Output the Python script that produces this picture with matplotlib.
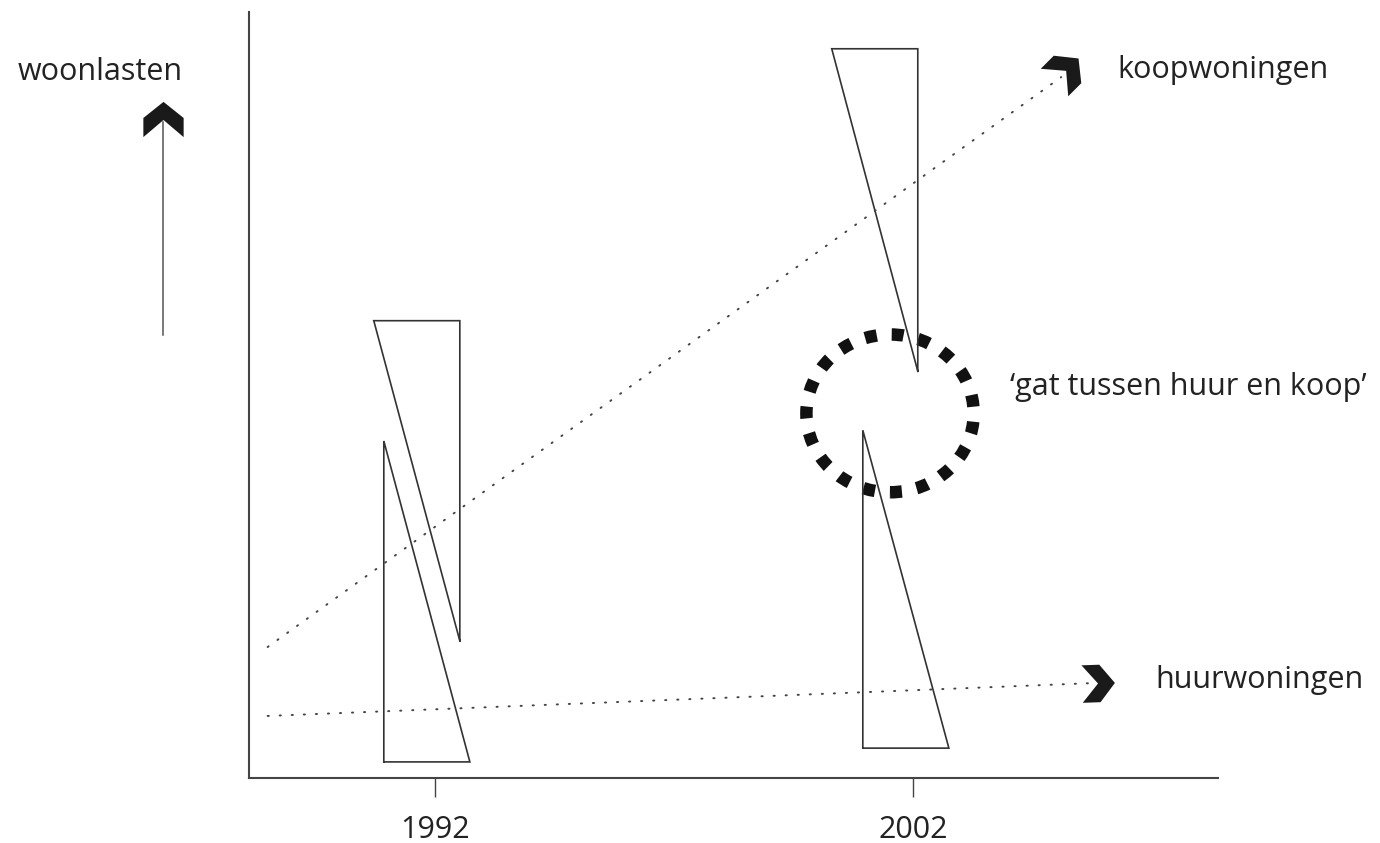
import numpy as np
import matplotlib
matplotlib.use("Agg")
import matplotlib.pyplot as plt
from matplotlib.path import Path
from matplotlib.markers import MarkerStyle
from matplotlib.transforms import Affine2D
from matplotlib.patches import Ellipse

# data (woonlasten index, 0-100)
years = [1992, 2002]
year_labels = ["1992", "2002"]
koop_top = [59.7, 95.2]
koop_bottom = [17.9, 53.1]
huur_top = [44.0, 45.4]
huur_bottom = [2.1, 3.9]

koop_trend_x = [1988.5, 2005.1]
koop_trend_y = [17.1, 91.5]
huur_trend_x = [1988.5, 2005.8]
huur_trend_y = [8.1, 12.4]

labels = ["koopwoningen", "huurwoningen"]
gap_label = "\u2018gat tussen huur en koop\u2019"
y_label = "woonlasten"

plt.rcParams['font.family'] = ['Open Sans', 'DejaVu Sans']
TXT = "#222222"
LINE = "#333333"

fig = plt.figure(figsize=(13.8, 8.43), dpi=100)
ax = fig.add_axes([249 / 1380, 65 / 843, 969 / 1380, 766 / 843])
ax.set_xlim(1988.11, 2008.38)
ax.set_ylim(0, 100)
for s in ["top", "right"]:
    ax.spines[s].set_visible(False)
for s in ["left", "bottom"]:
    ax.spines[s].set_color("#444444")
    ax.spines[s].set_linewidth(1.5)
ax.set_yticks([])
ax.set_xticks(years, year_labels)
ax.tick_params(axis="x", length=13.5, width=1, color="#444444", pad=13,
               labelsize=22, labelcolor=TXT)

# triangles: koop has the vertical edge right, huur left
tri_w = 1.8
koop_dx = [0.52, 0.10]
huur_dx = [-1.07, -1.05]
for i, yr in enumerate(years):
    xr = yr + koop_dx[i]
    ax.plot([xr, xr - tri_w, xr, xr], [koop_bottom[i], koop_top[i], koop_top[i], koop_bottom[i]],
            color=LINE, lw=1.2, solid_joinstyle="miter")
    xl = yr + huur_dx[i]
    ax.plot([xl, xl, xl + tri_w, xl], [huur_bottom[i], huur_top[i], huur_bottom[i], huur_bottom[i]],
            color=LINE, lw=1.2, solid_joinstyle="miter")

# dotted trend lines
ax.plot(koop_trend_x, koop_trend_y, color="#444444", lw=1.4, linestyle=(0, (0.6, 5.6)),
        dash_capstyle="round", clip_on=False)
ax.plot(huur_trend_x, huur_trend_y, color="#444444", lw=1.4, linestyle=(0, (0.6, 5.6)),
        dash_capstyle="round", clip_on=False)

# chevron arrow heads
chev = Path([(0, 17.5), (20, 1.5), (20, -17.5), (0, -0.5), (-20, -17.5), (-20, 1.5), (0, 17.5)],
            [Path.MOVETO] + [Path.LINETO] * 5 + [Path.CLOSEPOLY])


def chevron(angle):
    return MarkerStyle(chev, transform=Affine2D().rotate_deg(angle - 90))


ax.plot(koop_trend_x[-1] + 0.1, koop_trend_y[-1] + 0.9, marker=chevron(45), ms=28,
        color="#1a1a1a", mew=0, clip_on=False)
ax.plot(huur_trend_x[-1] + 0.06, huur_trend_y[-1], marker=chevron(2), ms=27,
        color="#1a1a1a", mew=0, clip_on=False)

ax.text(2006.27, 92.4, labels[0], fontsize=22, color=TXT, va="center", ha="left")
ax.text(2007.06, 12.8, labels[1], fontsize=22, color=TXT, va="center", ha="left")

# gap circle
circ = Ellipse((2001.52, 47.6), 3.5, 20.6, fill=False, edgecolor="#111111", lw=9,
               linestyle=(0, (0.95, 1.2)))
circ.set_capstyle("butt")
ax.add_patch(circ)
ax.text(2004.03, 51.0, gap_label, fontsize=22, color=TXT, va="center", ha="left")

# woonlasten arrow left of the axis
ax.plot([-0.0888, -0.0888], [0.578, 0.857], transform=ax.transAxes, color="#555555",
        lw=1.1, clip_on=False)
ax.plot([-0.0888], [0.8597], transform=ax.transAxes, marker=chevron(90), ms=29,
        color="#1a1a1a", mew=0, clip_on=False)
ax.text(-0.1538, 0.9217, y_label, transform=ax.transAxes, fontsize=22, color=TXT,
        va="center", ha="center")

fig.savefig("out.png", dpi=100, facecolor="white")
